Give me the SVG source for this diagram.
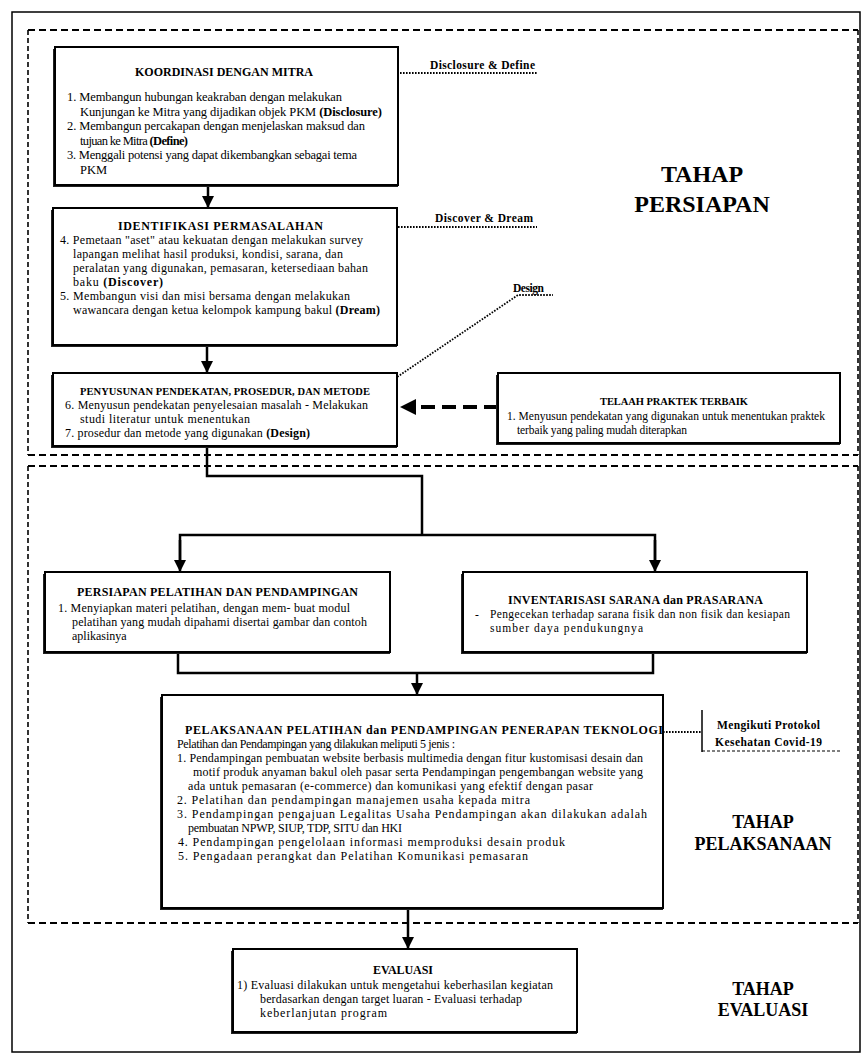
<svg xmlns="http://www.w3.org/2000/svg" width="863" height="1057" viewBox="0 0 863 1057">
<style>
text{font-family:"Liberation Serif","Times New Roman",serif;fill:#000}
.t1{font-size:12.5px}
.t{font-size:12px}
.s{font-size:11.5px}
.h{font-weight:bold;font-size:12px}
.hs{font-weight:bold;font-size:10.5px}
.lab{font-weight:bold;font-size:11.5px}
.big{font-weight:bold;font-size:24px}
.mid{font-weight:bold;font-size:18px}
.b{font-weight:bold}
.box{fill:#fff;stroke:#000;stroke-width:2}
.sh{fill:#222}
.frame{fill:none;stroke:#000;stroke-width:1.5}
.dash{stroke:#000;stroke-width:2;stroke-dasharray:7 4;fill:none}
.dashv{stroke:#000;stroke-width:1.6;stroke-dasharray:5 3;fill:none}
.con{stroke:#000;stroke-width:2.5;fill:none}
.dot{stroke:#000;stroke-width:1.8;stroke-dasharray:1.6 1.4;fill:none}
.thick{stroke:#000;stroke-width:4;stroke-dasharray:14 7;fill:none}
</style>
<defs>
<marker id="ah" markerUnits="userSpaceOnUse" markerWidth="12" markerHeight="12" refX="11" refY="6" orient="auto"><path d="M0,0 L12,6 L0,12 z" fill="#000"/></marker>
</defs>
<rect class="frame" x="12" y="12" width="848" height="1040"/>
<g id="stages">
<line class="dash" x1="28" y1="30" x2="858" y2="30"/>
<line class="dash" x1="28" y1="455" x2="858" y2="455"/>
<line class="dashv" x1="28" y1="30" x2="28" y2="455"/>
<line class="dashv" x1="858" y1="30" x2="858" y2="455"/>
<line class="dash" x1="28" y1="466" x2="858" y2="466"/>
<line class="dash" x1="28" y1="923" x2="858" y2="923"/>
<line class="dashv" x1="28" y1="466" x2="28" y2="923"/>
<line class="dashv" x1="858" y1="466" x2="858" y2="923"/>
<text class="big" x="702" y="182" text-anchor="middle">TAHAP</text>
<text class="big" x="702" y="212" text-anchor="middle">PERSIAPAN</text>
<text class="mid" x="763" y="828" text-anchor="middle">TAHAP</text>
<text class="mid" x="763" y="850" text-anchor="middle">PELAKSANAAN</text>
<text class="mid" x="763" y="995" text-anchor="middle">TAHAP</text>
<text class="mid" x="763" y="1016" text-anchor="middle">EVALUASI</text>
</g>
<g id="connectors">
<line class="con" x1="208" y1="185" x2="208" y2="207" marker-end="url(#ah)"/>
<line class="con" x1="207" y1="345" x2="207" y2="372" marker-end="url(#ah)"/>
<polyline class="con" points="207,446 207,476 422,476 422,535"/>
<polyline class="con" points="180,568 180,535 655,535 655,568"/>
<line class="con" x1="180" y1="540" x2="180" y2="571" marker-end="url(#ah)"/>
<line class="con" x1="655" y1="540" x2="655" y2="571" marker-end="url(#ah)"/>
<polyline class="con" points="178,652 178,673 653,673 653,652"/>
<line class="con" x1="417" y1="673" x2="417" y2="694" marker-end="url(#ah)"/>
<line class="con" x1="408" y1="908" x2="408" y2="948" marker-end="url(#ah)"/>
<line class="thick" x1="498" y1="407" x2="412" y2="407"/>
<path d="M400,407 L416,399 L416,415 z" fill="#000"/>
<line class="dot" x1="313" y1="73" x2="537" y2="73"/>
<line class="dot" x1="323" y1="227" x2="537" y2="227"/>
<polyline class="dot" points="375,392 518,295 553,295"/>
<line class="dot" x1="663" y1="732" x2="702" y2="732"/>
</g>
<g id="labels">
<text class="lab" x="430" y="69" textLength="105">Disclosure &amp; Define</text>
<text class="lab" x="435" y="222" textLength="98">Discover &amp; Dream</text>
<text class="lab" x="513" y="292" textLength="31">Design</text>
</g>
<g id="koordinasi">
<rect class="sh" x="53" y="49" width="345" height="138"/>
<rect class="box" x="55" y="47" width="343" height="138"/>
<text class="h" x="135" y="76" textLength="178">KOORDINASI DENGAN MITRA</text>
<text class="t1" x="67" y="101" textLength="275">1. Membangun hubungan keakraban dengan melakukan</text>
<text class="t1" x="80" y="115.5" textLength="302">Kunjungan ke Mitra yang dijadikan objek PKM <tspan class="b">(Disclosure)</tspan></text>
<text class="t1" x="67" y="130" textLength="298">2. Membangun percakapan dengan menjelaskan maksud dan</text>
<text class="t1" x="80" y="144.5" textLength="108">tujuan ke Mitra <tspan class="b">(Define)</tspan></text>
<text class="t1" x="67" y="159" textLength="290">3. Menggali potensi yang dapat dikembangkan sebagai tema</text>
<text class="t1" x="80" y="173.5">PKM</text>
</g>
<g id="identifikasi">
<rect class="sh" x="51" y="210" width="346" height="137"/>
<rect class="box" x="53" y="208" width="344" height="137"/>
<text class="h" x="118" y="230" textLength="205">IDENTIFIKASI PERMASALAHAN</text>
<text class="t" x="60" y="243.5" textLength="303">4. Pemetaan "aset" atau kekuatan dengan melakukan survey</text>
<text class="t" x="73" y="257.5" textLength="270">lapangan melihat hasil produksi, kondisi, sarana, dan</text>
<text class="t" x="73" y="271.5" textLength="295">peralatan yang digunakan, pemasaran, ketersediaan bahan</text>
<text class="t" x="73" y="285.5" textLength="90">baku <tspan class="b">(Discover)</tspan></text>
<text class="t" x="60" y="299.5" textLength="290">5. Membangun visi dan misi bersama dengan melakukan</text>
<text class="t" x="73" y="313.5" textLength="307">wawancara dengan ketua kelompok kampung bakul <tspan class="b">(Dream)</tspan></text>
</g>
<g id="penyusunan">
<rect class="sh" x="51" y="375" width="346" height="73"/>
<rect class="box" x="53" y="373" width="344" height="73"/>
<text class="hs" x="80" y="395" textLength="290">PENYUSUNAN PENDEKATAN, PROSEDUR, DAN METODE</text>
<text class="t" x="65" y="408.5" textLength="303">6. Menyusun pendekatan penyelesaian masalah - Melakukan</text>
<text class="t" x="80" y="422.5" textLength="170">studi literatur untuk menentukan</text>
<text class="t" x="65" y="436.5" textLength="245">7. prosedur dan metode yang digunakan <tspan class="b">(Design)</tspan></text>
</g>
<g id="telaah">
<rect class="sh" x="496" y="375" width="344" height="70"/>
<rect class="box" x="498" y="373" width="342" height="70"/>
<text class="hs" x="600" y="405" textLength="148">TELAAH PRAKTEK TERBAIK</text>
<text class="s" x="507" y="420" textLength="318">1. Menyusun pendekatan yang digunakan untuk menentukan praktek</text>
<text class="s" x="517" y="434" textLength="170">terbaik yang paling mudah diterapkan</text>
</g>
<g id="persiapan-pelatihan">
<rect class="sh" x="43" y="574" width="347" height="80"/>
<rect class="box" x="45" y="572" width="345" height="80"/>
<text class="h" x="77" y="596" textLength="281">PERSIAPAN PELATIHAN DAN PENDAMPINGAN</text>
<text class="t" x="58" y="611.5" textLength="292">1. Menyiapkan materi pelatihan, dengan mem- buat modul</text>
<text class="t" x="72" y="625.5" textLength="295">pelatihan yang mudah dipahami disertai gambar dan contoh</text>
<text class="t" x="72" y="639.5">aplikasinya</text>
</g>
<g id="inventarisasi">
<rect class="sh" x="461" y="574" width="346" height="80"/>
<rect class="box" x="463" y="572" width="344" height="80"/>
<text class="h" x="508" y="603.5" textLength="255">INVENTARISASI SARANA dan PRASARANA</text>
<text class="s" x="475" y="618">-</text>
<text class="s" x="490" y="618" textLength="300">Pengecekan terhadap sarana fisik dan non fisik dan kesiapan</text>
<text class="s" x="490" y="631.5" textLength="153">sumber daya pendukungnya</text>
</g>
<g id="pelaksanaan">
<rect class="sh" x="160" y="697" width="503" height="213"/>
<rect class="box" x="162" y="695" width="501" height="213"/>
<text class="h" x="185" y="734" textLength="478">PELAKSANAAN PELATIHAN dan PENDAMPINGAN PENERAPAN TEKNOLOGI</text>
<text class="t" x="177" y="748" textLength="278">Pelatihan dan Pendampingan yang dilakukan meliputi 5 jenis :</text>
<text class="t" x="177" y="762" textLength="466">1. Pendampingan pembuatan website berbasis multimedia dengan fitur kustomisasi desain dan</text>
<text class="t" x="193" y="776" textLength="450">motif produk anyaman bakul oleh pasar serta Pendampingan pengembangan website yang</text>
<text class="t" x="188" y="790" textLength="405">ada untuk pemasaran (e-commerce) dan komunikasi yang efektif dengan pasar</text>
<text class="t" x="177" y="804" textLength="353">2. Pelatihan dan pendampingan manajemen usaha kepada mitra</text>
<text class="t" x="177" y="818" textLength="470">3. Pendampingan pengajuan Legalitas Usaha Pendampingan akan dilakukan adalah</text>
<text class="t" x="188" y="832" textLength="214">pembuatan NPWP, SIUP, TDP, SITU dan HKI</text>
<text class="t" x="178" y="846" textLength="387">4. Pendampingan pengelolaan informasi memproduksi desain produk</text>
<text class="t" x="178" y="860" textLength="350">5. Pengadaan perangkat dan Pelatihan Komunikasi pemasaran</text>
</g>
<g id="protokol">
<line x1="702" y1="710" x2="702" y2="752" stroke="#000" stroke-width="1.5"/>
<line class="dashv" x1="702" y1="751" x2="840" y2="751" style="stroke-width:1.2;stroke-dasharray:3 2"/>
<text class="lab" x="717" y="729" textLength="103">Mengikuti Protokol</text>
<text class="lab" x="715" y="746" textLength="107">Kesehatan Covid-19</text>
</g>
<g id="evaluasi">
<rect class="sh" x="231" y="951" width="346" height="83"/>
<rect class="box" x="233" y="949" width="344" height="83"/>
<text class="h" x="373" y="974" textLength="60">EVALUASI</text>
<text class="t" x="237" y="989" textLength="316">1) Evaluasi dilakukan untuk mengetahui keberhasilan kegiatan</text>
<text class="t" x="260" y="1003" textLength="262">berdasarkan dengan target luaran - Evaluasi terhadap</text>
<text class="t" x="260" y="1017" textLength="127">keberlanjutan program</text>
</g>
</svg>
